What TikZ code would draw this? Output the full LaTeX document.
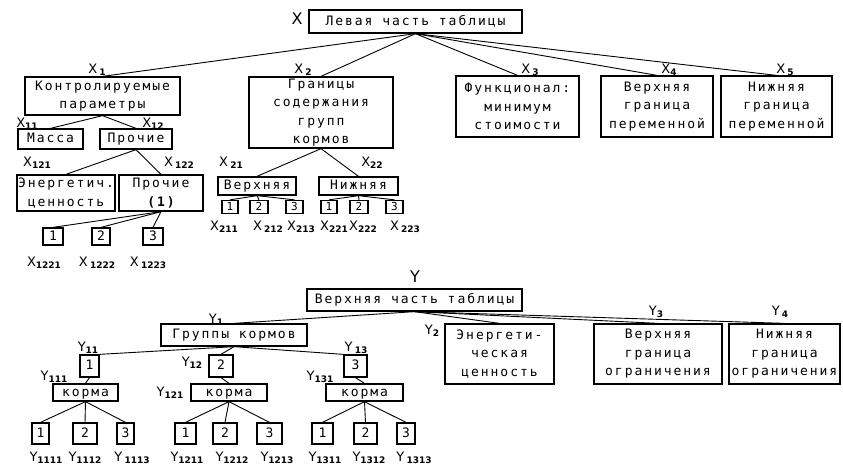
\documentclass[tikz,border=0pt]{standalone}
\usepackage{fontspec}
\newfontfamily\monofont[LetterSpace=15]{DejaVu Sans Mono}
\newfontfamily\labfont{DejaVu Sans}
\newcommand{\boxfont}{\monofont\fontsize{13}{18.5}\selectfont}
\newcommand{\digfont}{\monofont\fontsize{11}{11}\selectfont}
\newcommand{\tagfont}{\labfont\fontsize{13}{13}\selectfont}
\newcommand{\idx}[2]{#1\raisebox{-2pt}{\fontsize{9}{9}\selectfont\bfseries #2}}
\begin{document}
\begin{tikzpicture}[
                  x=1pt, y=-1pt,
                  box/.style={draw, line width=1.3pt, inner sep=0pt, align=center, font=\boxfont},
                  one/.style={box, text height=8pt, text depth=1pt},
                  digit/.style={one, font=\digfont, text height=7pt, text depth=0pt},
                  tag/.style={inner sep=0pt, font=\tagfont},
                  link/.style={line width=0.9pt}
                ]
                  \useasboundingbox (0,0) rectangle (843,467);
                  % left part of the table
                  \node[one, minimum width=213, minimum height=23] (root) at (415.5,21.5) {Левая часть таблицы};
                  \node[tag, font=\labfont\fontsize{16}{16}\selectfont] (lx) at (297,19) {X};
                  \node[box, minimum width=155, minimum height=38] (ctrl) at (102.5,96) {Контролируемые\\параметры};
                  \node[box, minimum width=144, minimum height=71] (gran) at (321,112.5) {Границы\\содержания\\групп\\кормов};
                  \node[box, minimum width=123, minimum height=61] (func) at (517.5,106.5) {Функционал:\\минимум\\стоимости};
                  \node[box, minimum width=112, minimum height=61] (upvar) at (657,106.5) {Верхняя\\граница\\переменной};
                  \node[box, minimum width=111, minimum height=61] (lowvar) at (776.5,106.5) {Нижняя\\граница\\переменной};
                  \node[tag] (lx1) at (97,70) {\idx{X\,}{1}};
                  \node[tag] (lx2) at (303,70) {\idx{X\,}{2}};
                  \node[tag] (lx3) at (530,70) {\idx{X\,}{3}};
                  \node[tag] (lx4) at (669,70) {\idx{X}{4}};
                  \node[tag] (lx5) at (785,70) {\idx{X\,}{5}};
                  \foreach \n in {ctrl,gran,func,upvar,lowvar}
                    \draw[link] (root.south) -- (\n.north);
                  % controlled parameters
                  \node[one, minimum width=65, minimum height=20] (massa) at (50.5,139) {Масса};
                  \node[one, minimum width=72, minimum height=20] (other) at (136,139) {Прочие};
                  \node[tag] (lx11) at (27,124) {\idx{X}{11}};
                  \node[tag] (lx12) at (153,124) {\idx{X}{12}};
                  \draw[link] (ctrl.south) -- (massa.north);
                  \draw[link] (ctrl.south) -- (other.north);
                  \node[box, minimum width=98, minimum height=36] (energ) at (66,193) {Энергетич.\\ценность};
                  \node[box, minimum width=84, minimum height=36] (other1) at (161,193) {Прочие\\{\bfseries (1)}};
                  \node[tag] (lx121) at (37,163) {\idx{X}{121}};
                  \node[tag] (lx122) at (179,163) {\idx{X\,}{122}};
                  \draw[link] (other.south) -- (energ.north);
                  \draw[link] (other.south) -- (other1.north);
                  \node[one, minimum width=20, minimum height=17] (c1) at (53,236.5) {1};
                  \node[one, minimum width=18, minimum height=17] (c2) at (101,236.5) {2};
                  \node[one, minimum width=20, minimum height=17] (c3) at (153,236.5) {3};
                  \foreach \n in {c1,c2,c3}
                    \draw[link] (other1.south) -- (\n.north);
                  \node[tag] (lx1221) at (44,263) {\idx{X}{1221}};
                  \node[tag] (lx1222) at (97,263) {\idx{X\,}{1222}};
                  \node[tag] (lx1223) at (148,263) {\idx{X\,}{1223}};
                  % bounds of feed groups
                  \node[one, minimum width=78, minimum height=18] (upper) at (257,186) {Верхняя};
                  \node[one, minimum width=79, minimum height=18] (lower) at (358.5,186) {Нижняя};
                  \node[tag] (lx21) at (231,163) {\idx{X\,}{21}};
                  \node[tag] (lx22) at (372,163) {\idx{X}{22}};
                  \draw[link] (gran.south) -- (upper.north);
                  \draw[link] (gran.south) -- (lower.north);
                  \node[digit, minimum width=16, minimum height=13] (u1) at (230,207) {1};
                  \node[digit, minimum width=18, minimum height=13] (u2) at (259,207) {2};
                  \node[digit, minimum width=17, minimum height=13] (u3) at (294.5,207) {3};
                  \node[digit, minimum width=16, minimum height=13] (l1) at (329,207) {1};
                  \node[digit, minimum width=18, minimum height=13] (l2) at (359,207) {2};
                  \node[digit, minimum width=17, minimum height=13] (l3) at (394.5,207) {3};
                  \foreach \n in {u1,u2,u3}
                    \draw[link] (upper.south) -- (\n.north);
                  \foreach \n in {l1,l2,l3}
                    \draw[link] (lower.south) -- (\n.north);
                  \node[tag] (lx211) at (224,227) {\idx{X}{211}};
                  \node[tag] (lx212) at (268,227) {\idx{X\,}{212}};
                  \node[tag] (lx213) at (301,227) {\idx{X}{213}};
                  \node[tag] (lx221) at (334,227) {\idx{X}{221}};
                  \node[tag] (lx222) at (363,227) {\idx{X}{222}};
                  \node[tag] (lx223) at (405,227) {\idx{X\,}{223}};
                  % upper part of the table
                  \node[one, minimum width=215, minimum height=22] (yroot) at (414.5,300) {Верхняя часть таблицы};
                  \node[tag, font=\labfont\fontsize{16}{16}\selectfont] (ly) at (415,277) {Y};
                  \node[one, minimum width=146, minimum height=22] (grp) at (234,335) {Группы кормов};
                  \node[box, minimum width=109, minimum height=60] (yenerg) at (499.5,354) {Энергети-\\ческая\\ценность};
                  \node[box, minimum width=128, minimum height=60] (yup) at (658,354) {Верхняя\\граница\\ограничения};
                  \node[box, minimum width=111, minimum height=60] (ylow) at (784.5,354) {Нижняя\\граница\\ограничения};
                  \node[tag] (ly1) at (216,320) {\idx{Y}{1}};
                  \node[tag] (ly2) at (432,331) {\idx{Y}{2}};
                  \node[tag] (ly3) at (656,312) {\idx{Y}{3}};
                  \node[tag] (ly4) at (780,312) {\idx{Y\,}{4}};
                  \foreach \n in {grp,yenerg,yup,ylow}
                    \draw[link] (yroot.south) -- (\n.north);
                  % feed groups
                  \node[one, minimum width=19, minimum height=22] (g1) at (89.5,366) {1};
                  \node[one, minimum width=24, minimum height=22] (g2) at (221,366) {2};
                  \node[one, minimum width=23, minimum height=22] (g3) at (355.5,366) {3};
                  \node[tag] (ly11) at (88,348) {\idx{Y}{11}};
                  \node[tag] (ly12) at (192,363) {\idx{Y}{12}};
                  \node[tag] (ly13) at (356,348) {\idx{Y\,}{13}};
                  \draw[link] (grp.south) -- (g1.north east);
                  \draw[link] (grp.south) -- (g2.north);
                  \draw[link] (grp.south) -- (g3.north west);
                  \node[one, minimum width=65, minimum height=17] (k1) at (85.5,392.5) {корма};
                  \node[one, minimum width=76, minimum height=17] (k2) at (229,392.5) {корма};
                  \node[one, minimum width=77, minimum height=17] (k3) at (364.5,392.5) {корма};
                  \node[tag] (ly111) at (54,377) {\idx{Y}{111}};
                  \node[tag] (ly121) at (170,393) {\idx{Y}{121}};
                  \node[tag] (ly131) at (320,377) {\idx{Y}{131}};
                  \foreach \i in {1,2,3}
                    \draw[link] (g\i.south) -- (k\i.north);
                  \node[one, minimum width=17, minimum height=21] (s11) at (40.5,433.5) {1};
                  \node[one, minimum width=24, minimum height=21] (s12) at (85,433.5) {2};
                  \node[one, minimum width=17, minimum height=21] (s13) at (125.5,433.5) {3};
                  \node[one, minimum width=21, minimum height=21] (s21) at (185.5,433.5) {1};
                  \node[one, minimum width=24, minimum height=21] (s22) at (225,433.5) {2};
                  \node[one, minimum width=25, minimum height=21] (s23) at (269.5,433.5) {3};
                  \node[one, minimum width=21, minimum height=21] (s31) at (322.5,433.5) {1};
                  \node[one, minimum width=23, minimum height=21] (s32) at (365.5,433.5) {2};
                  \node[one, minimum width=18, minimum height=21] (s33) at (406,433.5) {3};
                  \foreach \i in {1,2,3}
                    \foreach \j in {1,2,3}
                      \draw[link] (k\i.south) -- (s\i\j.north);
                  \node[tag] (ly1111) at (46,458) {\idx{Y}{1111}};
                  \node[tag] (ly1112) at (85,458) {\idx{Y}{1112}};
                  \node[tag] (ly1113) at (132,458) {\idx{Y\,}{1113}};
                  \node[tag] (ly1211) at (187,458) {\idx{Y}{1211}};
                  \node[tag] (ly1212) at (232,458) {\idx{Y}{1212}};
                  \node[tag] (ly1213) at (277,458) {\idx{Y}{1213}};
                  \node[tag] (ly1311) at (325,458) {\idx{Y}{1311}};
                  \node[tag] (ly1312) at (369,458) {\idx{Y}{1312}};
                  \node[tag] (ly1313) at (414,458) {\idx{Y\,}{1313}};
                \end{tikzpicture}
\end{document}
